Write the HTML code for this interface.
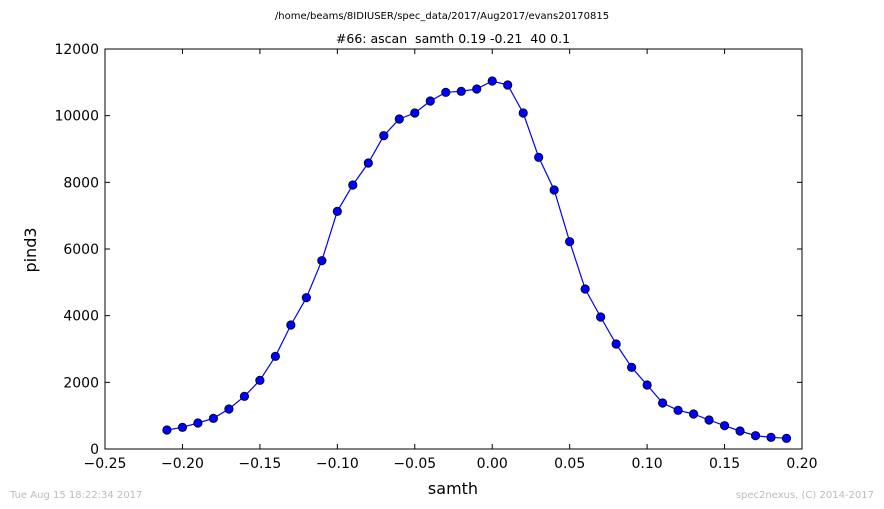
<!DOCTYPE html>
<html><head><meta charset="utf-8">
<style>
html,body{margin:0;padding:0;background:#fff;}
svg{display:block;font-family:"DejaVu Sans","Liberation Sans",sans-serif;}
</style></head>
<body>
<svg id="chart" width="884" height="509" viewBox="0 0 884 509">
<rect x="0" y="0" width="884" height="509" fill="#fff"/>
<text x="442" y="19" font-size="10" text-anchor="middle">/home/beams/8IDIUSER/spec_data/2017/Aug2017/evans20170815</text>
<text x="453" y="43" font-size="12.5" text-anchor="middle" style="white-space:pre">#66: ascan  samth 0.19 -0.21  40 0.1</text>
<g id="axes"></g>
<text x="453" y="494" font-size="16" text-anchor="middle">samth</text>
<text x="36" y="250" font-size="16" text-anchor="middle" transform="rotate(-90 36 250)">pind3</text>
<text x="10" y="498" font-size="10" fill="#bbb">Tue Aug 15 18:22:34 2017</text>
<text x="874" y="498" font-size="10" fill="#bbb" text-anchor="end">spec2nexus, (C) 2014-2017</text>
</svg>
<script>
const xValues=[-0.21,-0.20,-0.19,-0.18,-0.17,-0.16,-0.15,-0.14,-0.13,-0.12,-0.11,-0.10,-0.09,-0.08,-0.07,-0.06,-0.05,-0.04,-0.03,-0.02,-0.01,0.00,0.01,0.02,0.03,0.04,0.05,0.06,0.07,0.08,0.09,0.10,0.11,0.12,0.13,0.14,0.15,0.16,0.17,0.18,0.19];
const yValues=[570,650,780,920,1200,1580,2060,2780,3720,4540,5650,7130,7920,8580,9400,9900,10080,10440,10700,10730,10800,11040,10920,10080,8750,7770,6220,4800,3960,3150,2450,1920,1380,1160,1050,870,700,540,400,350,320];
const xTicks=[-0.25,-0.20,-0.15,-0.10,-0.05,0.00,0.05,0.10,0.15,0.20];
const xTickLabels=["\u22120.25","\u22120.20","\u22120.15","\u22120.10","\u22120.05","0.00","0.05","0.10","0.15","0.20"];
const yTicks=[0,2000,4000,6000,8000,10000,12000];
const yTickLabels=["0","2000","4000","6000","8000","10000","12000"];

const L=105,R=802,T=49,B=449,xMin=-0.25,xMax=0.20,yMin=0,yMax=12000;
const sx=v=>L+(v-xMin)/(xMax-xMin)*(R-L);
const sy=v=>B-(v-yMin)/(yMax-yMin)*(B-T);
const NS="http://www.w3.org/2000/svg";
const g=document.getElementById('axes');
function mk(tag,attrs){const e=document.createElementNS(NS,tag);for(const k in attrs)e.setAttribute(k,attrs[k]);g.appendChild(e);return e;}

const frame=mk('rect',{x:L,y:T,width:R-L,height:B-T,fill:'none',stroke:'#000','stroke-width':1});



xTicks.forEach((v,i)=>{
  const x=sx(v);
  const t1=mk('line',{x1:x,y1:B,x2:x,y2:B-5,stroke:'#000'});
  
  
  const t2=mk('line',{x1:x,y1:T,x2:x,y2:T+5,stroke:'#000'});
  
  
  const lb=mk('text',{x:x,y:B+19,'font-size':14,'text-anchor':'middle'});
  lb.textContent=xTickLabels[i];
  
  
});
yTicks.forEach((v,i)=>{
  const y=sy(v);
  const t1=mk('line',{x1:L,y1:y,x2:L+5,y2:y,stroke:'#000'});
  
  
  const t2=mk('line',{x1:R,y1:y,x2:R-5,y2:y,stroke:'#000'});
  
  
  const lb=mk('text',{x:L-6,y:y+5,'font-size':14,'text-anchor':'end'});
  lb.textContent=yTickLabels[i];
  
  
});

const pts=xValues.map((x,i)=>sx(x).toFixed(1)+','+sy(yValues[i]).toFixed(1)).join(' ');
const line=mk('polyline',{points:pts,fill:'none',stroke:'#0000ff','stroke-width':1.2});


xValues.forEach((x,i)=>{
  const c=mk('circle',{cx:sx(x),cy:sy(yValues[i]),r:4.2,fill:'#0000ff',stroke:'#000','stroke-width':0.8});
  
  
});
</script>
</body></html>
